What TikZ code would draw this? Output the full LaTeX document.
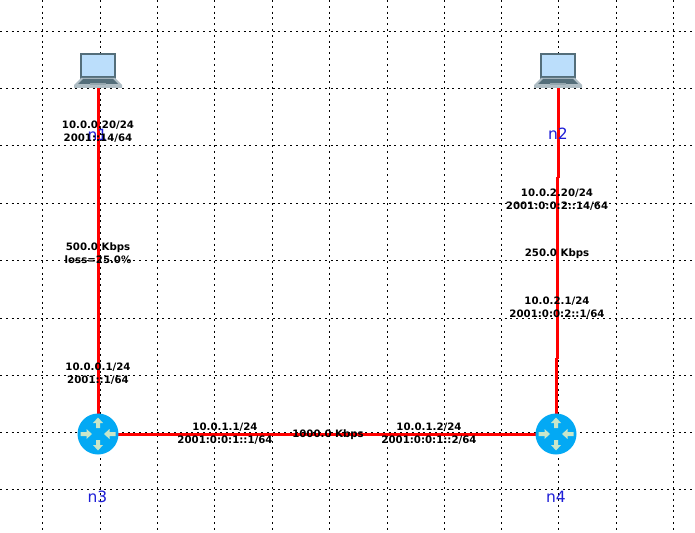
\documentclass[tikz,border=0pt]{standalone}
\usepackage{fontspec}
\setmainfont{DejaVu Sans}
\definecolor{linkred}{RGB}{255,0,0}
\definecolor{routerblue}{RGB}{3,169,244}
\definecolor{arrowpale}{RGB}{200,230,201}
\definecolor{screenblue}{RGB}{187,222,251}
\definecolor{caseslate}{RGB}{84,110,122}
\definecolor{basegrey}{RGB}{176,190,197}
\definecolor{namecolor}{RGB}{30,30,215}
\tikzset{
  gridline/.style={black,line width=1pt,dash pattern=on 2pt off 3.8pt},
  link/.style={linkred,line width=3pt},
  iflabel/.style={font=\bfseries\fontsize{10.2}{13}\selectfont,align=center,inner sep=0pt},
  hostname/.style={font=\fontsize{15.5}{18}\selectfont,text=namecolor,inner sep=0pt},
  router/.pic = {
    \fill[routerblue] (0,0) circle (20.5);
    % vertical arrows point out, horizontal ones point in
    \foreach \a in {90,270}
      \fill[arrowpale,rotate=\a] (6,-2) -- (11,-2) -- (11,-5) -- (16.5,0) -- (11,5) -- (11,2) -- (6,2) -- cycle;
    \foreach \a in {0,180}
      \fill[arrowpale,rotate=\a] (17.5,-2) -- (11.5,-2) -- (11.5,-5) -- (6,0) -- (11.5,5) -- (11.5,2) -- (17.5,2) -- cycle;},
  laptop/.pic = {
    \fill[caseslate] (-18,-35) rectangle (18,-9);
    \fill[screenblue] (-16,-33) rectangle (16,-12);
    \fill[basegrey] (-17,-10) -- (17,-10) -- (24,-3) -- (24,0) -- (-24,0) -- (-24,-3) -- cycle;
    \fill[caseslate] (-15,-9) -- (15,-9) -- (20,-4) -- (-20,-4) -- cycle;
    \fill[basegrey!70!caseslate] (-8,-5) rectangle (8,-2.5);},
}
\begin{document}
\begin{tikzpicture}[x=1pt,y=-1pt]
    \useasboundingbox (0,0) rectangle (695,532);
    \fill[white] (0,0) rectangle (695,532);
    % canvas grid
    \foreach \gx in {42.5,100.5,157.5,214.5,272.5,329.5,387.5,444.5,501.5,558.5,616.5,673.5}
        \draw[gridline] (\gx,0) -- (\gx,532);
    \foreach \gy in {31.5,88.5,145.5,203.5,260.5,318.5,375.5,432.5,489.5}
        \draw[gridline] (0,\gy) -- (695,\gy);

    \coordinate (n1) at (98.5,88);
    \coordinate (n2) at (558.5,88);
    \coordinate (n3) at (98.5,434.5);
    \coordinate (n4) at (556.5,434.5);
    \coordinate (n2a) at (557.5,177);
    \coordinate (n2b) at (557.5,359);

    \draw[link] (n1) -- (n3);
    \draw[link] (n3) -- (n4);
    \draw[link] (n2) -- (558.5,178);
    \draw[link] (n2a) -- (n2b);
    \draw[link] (556.5,358) -- (n4);

    \draw (98,88)pic{laptop};
    \draw (558,88)pic{laptop};
    \draw (98,434)pic{router};
    \draw (556,434)pic{router};

    \node[hostname] (n1name) at (97.5,135) {n1};
    \node[hostname] (n2name) at (558,134) {n2};
    \node[hostname] (n3name) at (97.5,497) {n3};
    \node[hostname] (n4name) at (556,497) {n4};

    \node[iflabel] (if1) at (98,131.5) {10.0.0.20/24\\2001::14/64};
    \node[iflabel] (if2) at (98,374) {10.0.0.1/24\\2001::1/64};
    \node[iflabel] (rate1) at (98,253.5) {500.0 Kbps\\loss=25.0\%};
    \node[iflabel] (if3) at (557,200) {10.0.2.20/24\\2001:0:0:2::14/64};
    \node[iflabel] (rate2) at (557,254) {250.0 Kbps};
    \node[iflabel] (if4) at (557,307.5) {10.0.2.1/24\\2001:0:0:2::1/64};
    \node[iflabel] (if5) at (225,434) {10.0.1.1/24\\2001:0:0:1::1/64};
    \node[iflabel] (rate3) at (328,435) {1000.0 Kbps};
    \node[iflabel] (if6) at (429,434) {10.0.1.2/24\\2001:0:0:1::2/64};
\end{tikzpicture}
\end{document}
